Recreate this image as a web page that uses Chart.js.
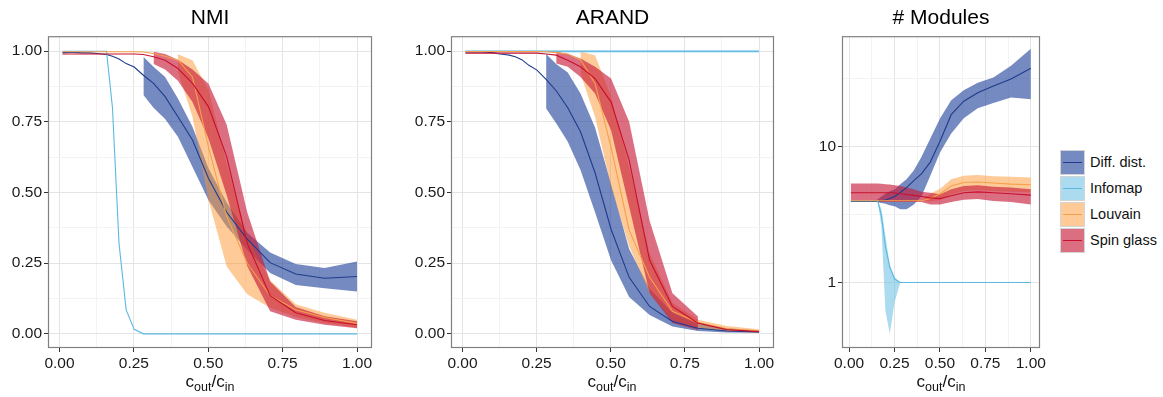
<!DOCTYPE html>
<html>
<head>
<meta charset="utf-8">
<script src="https://cdn.jsdelivr.net/npm/chart.js@4.4.1/dist/chart.umd.min.js"></script>
<style>
  body { margin: 0; background: #fff; width: 1163px; height: 397px; position: relative; overflow: hidden;
         font-family: "Liberation Sans", Arial, sans-serif; }
  canvas { position: absolute; top: 0; }
  .xlab { position: absolute; top: 372px; font-size: 17px; line-height: 20px; color: #111;
          transform: translateX(-50%); white-space: nowrap; }
  .xlab sub { font-size: 12.5px; vertical-align: -4px; line-height: 0; }
  #legend { position: absolute; left: 1060px; top: 149px; }
  .row { height: 26px; display: flex; align-items: center; font-size: 14.5px; color: #111; }
  .key { width: 25px; height: 25px; box-sizing: border-box; border: 1px solid #d4d4d4; position: relative; margin-right: 5px; }
  .key span { position: absolute; left: 2px; right: 2px; top: 11px; height: 1px; }
</style>
</head>
<body>
<canvas id="nmiChart" width="380" height="397" style="left:0px"></canvas>
<canvas id="arandChart" width="400" height="397" style="left:380px"></canvas>
<canvas id="modChart" width="270" height="397" style="left:780px"></canvas>
<div class="xlab" style="left:210px">c<sub>out</sub>/c<sub>in</sub></div>
<div class="xlab" style="left:612px">c<sub>out</sub>/c<sub>in</sub></div>
<div class="xlab" style="left:941px">c<sub>out</sub>/c<sub>in</sub></div>
<div id="legend"></div>
<script>
// c_out / c_in values
const X = [0.01, 0.02, 0.04, 0.063, 0.079, 0.1, 0.112, 0.126, 0.141, 0.158, 0.178, 0.2, 0.224,
           0.251, 0.282, 0.316, 0.355, 0.398, 0.447, 0.501, 0.562, 0.631, 0.708, 0.794, 0.891, 1.0];

const SERIES = ['Diff. dist.', 'Infomap', 'Louvain', 'Spin glass'];
const LINE_COLORS = ['#1f3c8c', '#5ab8e2', '#f7a04a', '#c8102e'];
const BAND_COLORS = ['rgba(37,70,155,0.63)', 'rgba(100,190,225,0.55)', 'rgba(252,150,50,0.5)', 'rgba(200,25,55,0.63)'];

const X_TICKS = [0, 0.125, 0.25, 0.375, 0.5, 0.625, 0.75, 0.875, 1];
const X_LABELS = ['0.00', '', '0.25', '', '0.50', '', '0.75', '', '1.00'];
const LOG_TICKS = [1, 3.162, 10, 31.62];
const LOG_LABELS = ['1', '', '10', ''];

// NMI
const nmiDiff   = [0.995,0.995,0.996,0.995,0.994,0.994,0.993,0.992,0.990,0.988,0.982,0.972,0.956,0.944,0.915,0.886,0.839,0.768,0.686,0.550,0.430,0.335,0.252,0.212,0.197,0.203];
const nmiDiffHi = [null,null,null,null,null,null,null,null,null,null,null,null,null,null,0.980,0.945,0.909,0.833,0.733,0.585,0.465,0.358,0.288,0.247,0.233,0.256];
const nmiDiffLo = [null,null,null,null,null,null,null,null,null,null,null,null,null,null,0.845,0.800,0.760,0.697,0.590,0.473,0.380,0.297,0.215,0.173,0.161,0.150];
const nmiInfo   = [1,1,1,1,1,1,1,1,1,1,0.800,0.320,0.085,0.016,0,0,0,0,0,0,0,0,0,0,0,0];
const nmiLouv   = [0.998,0.998,0.998,0.998,0.998,0.998,0.998,0.998,0.998,0.998,0.998,0.998,0.998,0.998,0.997,0.992,0.982,0.968,0.909,0.660,0.415,0.250,0.135,0.085,0.058,0.037];
const nmiLouvHi = [null,null,null,null,null,null,null,null,null,null,null,null,null,null,null,null,null,0.989,0.968,0.862,0.603,0.344,0.190,0.105,0.075,0.050];
const nmiLouvLo = [null,null,null,null,null,null,null,null,null,null,null,null,null,null,null,null,null,0.927,0.768,0.473,0.238,0.140,0.092,0.060,0.038,0.022];
const nmiSpin   = [0.990,0.990,0.990,0.990,0.990,0.990,0.990,0.990,0.990,0.990,0.990,0.990,0.990,0.990,0.988,0.980,0.968,0.939,0.886,0.803,0.627,0.320,0.135,0.075,0.047,0.032];
const nmiSpinHi = [null,null,null,null,null,null,null,null,null,null,null,null,null,null,null,0.998,0.990,0.970,0.935,0.885,0.740,0.430,0.185,0.095,0.062,0.045];
const nmiSpinLo = [null,null,null,null,null,null,null,null,null,null,null,null,null,null,null,0.955,0.935,0.895,0.820,0.690,0.490,0.240,0.080,0.050,0.032,0.020];

// ARAND
const arDiff   = [0.997,0.997,0.998,0.997,0.996,0.995,0.993,0.990,0.988,0.986,0.980,0.970,0.950,0.933,0.900,0.860,0.800,0.715,0.570,0.370,0.200,0.097,0.044,0.020,0.010,0.007];
const arDiffHi = [null,null,null,null,null,null,null,null,null,null,null,null,null,null,0.990,0.955,0.925,0.850,0.730,0.530,0.300,0.160,0.075,0.035,0.020,0.012];
const arDiffLo = [null,null,null,null,null,null,null,null,null,null,null,null,null,null,0.797,0.745,0.680,0.580,0.430,0.260,0.130,0.067,0.026,0.010,0.005,0.004];
const arInfo   = [1,1,1,1,1,1,1,1,1,1,1,1,1,1,1,1,1,1,1,1,1,1,1,1,1,1];
const arInfoHi = [1.003,1.003,1.003,1.003,1.003,1.003,1.003,1.003,1.003,1.003,1.003,1.003,1.003,1.003,1.003,1.003,1.003,1.003,1.003,1.003,1.003,1.003,1.003,1.003,1.003,1.003];
const arInfoLo = [0.995,0.995,0.995,0.995,0.995,0.995,0.995,0.995,0.995,0.995,0.995,0.995,0.995,0.995,0.995,0.995,0.995,0.995,0.995,0.995,0.995,0.995,0.995,0.995,0.995,0.995];
const arLouv   = [0.999,0.999,0.999,0.999,0.999,0.999,0.999,0.999,0.999,0.999,0.999,0.999,0.999,0.999,0.998,0.995,0.990,0.970,0.886,0.660,0.367,0.200,0.080,0.040,0.018,0.010];
const arLouvHi = [null,null,null,null,null,null,null,null,null,null,null,null,null,null,null,null,null,0.998,0.986,0.840,0.590,0.285,0.110,0.050,0.028,0.016];
const arLouvLo = [null,null,null,null,null,null,null,null,null,null,null,null,null,null,null,null,null,0.920,0.768,0.520,0.310,0.144,0.050,0.020,0.008,0.004];
const arSpin   = [0.993,0.993,0.993,0.993,0.993,0.993,0.993,0.993,0.993,0.993,0.993,0.993,0.993,0.993,0.990,0.986,0.968,0.945,0.903,0.820,0.615,0.260,0.097,0.038,0.015,0.008];
const arSpinHi = [null,null,null,null,null,null,null,null,null,null,null,null,null,null,null,0.998,0.990,0.974,0.945,0.903,0.750,0.400,0.144,0.061,null,null];
const arSpinLo = [null,null,null,null,null,null,null,null,null,null,null,null,null,null,null,0.956,0.945,0.909,0.850,0.720,0.450,0.144,0.038,0.014,null,null];

// # Modules
const modDiff   = [3.95,3.95,3.95,3.95,3.95,3.95,3.95,3.95,3.95,3.97,4.0,4.05,4.15,4.3,4.6,5.0,5.6,6.3,7.7,11.0,17.2,21.6,24.9,28.0,31.5,37.8];
const modDiffHi = [null,null,null,null,null,null,null,null,4.0,4.1,4.3,4.5,4.7,4.85,5.3,5.75,6.65,8.4,11.5,16.2,22.0,26.0,29.6,32.3,39.4,52.6];
const modDiffLo = [null,null,null,null,null,null,null,null,3.95,3.9,3.85,3.8,3.7,3.64,3.47,3.47,3.74,4.3,6.1,9.1,12.5,16.2,19.2,21.0,23.0,22.3];
const modInfo   = [4.0,4.0,4.0,4.0,4.0,4.0,4.0,4.0,4.0,4.0,3.1,1.85,1.3,1.06,1,1,1,1,1,1,1,1,1,1,1,1];
const modInfoHi = [null,null,null,null,null,null,null,null,null,4.0,3.5,2.2,1.35,1.1,1.0,null,null,null,null,null,null,null,null,null,null,null];
const modInfoLo = [null,null,null,null,null,null,null,null,null,3.95,2.6,0.62,0.42,0.72,1.0,null,null,null,null,null,null,null,null,null,null,null];
const modLouv   = [4.0,4.0,4.0,4.0,4.0,4.0,4.0,4.0,4.0,4.0,4.0,4.0,4.0,4.0,4.0,4.0,4.0,4.0,4.15,4.5,5.14,5.45,5.5,5.4,5.3,5.25];
const modLouvHi = [null,null,null,null,null,null,null,null,null,null,null,null,null,null,null,null,null,4.0,4.5,4.9,5.77,6.1,6.2,6.05,6.0,5.93];
const modLouvLo = [null,null,null,null,null,null,null,null,null,null,null,null,null,null,null,null,null,4.0,3.95,4.05,4.46,4.72,4.8,4.72,4.65,4.6];
const modSpin   = [4.58,4.58,4.58,4.58,4.58,4.58,4.58,4.58,4.58,4.58,4.58,4.58,4.58,4.58,4.5,4.45,4.38,4.3,4.2,4.15,4.35,4.58,4.65,4.58,4.5,4.4];
const modSpinHi = [5.36,5.36,5.36,5.36,5.36,5.36,5.36,5.36,5.36,5.36,5.33,5.3,5.26,5.2,5.14,5.0,4.86,4.65,4.58,4.46,4.86,5.14,5.2,5.08,5.0,4.86];
const modSpinLo = [3.91,3.91,3.91,3.91,3.91,3.91,3.91,3.91,3.91,3.91,3.91,3.91,3.91,3.91,3.91,3.91,3.91,3.91,3.76,3.76,3.91,4.06,4.12,3.99,3.91,3.76];

const FONT = '"Liberation Sans", Arial, sans-serif';
const MAJOR_GRID = '#e4e4e4';
const MINOR_GRID = '#f3f3f3';

function pts(arr) {
    return X.map((x, i) => ({ x: x, y: arr[i] })).filter(p => p.y !== null);
}

function buatDatasets(mids, his, los) {
    const ds = [];
    for (let s = 0; s < 4; s++) {
        if (!his[s]) continue;
        ds.push({ data: pts(his[s]), borderColor: 'rgba(0,0,0,0)', borderWidth: 0, pointRadius: 0, fill: false, order: 8 - s });
        ds.push({ data: pts(los[s]), borderColor: 'rgba(0,0,0,0)', borderWidth: 0, pointRadius: 0,
                  fill: '-1', backgroundColor: BAND_COLORS[s], order: 8 - s });
    }
    for (let s = 0; s < 4; s++) {
        ds.push({ data: pts(mids[s]), borderColor: LINE_COLORS[s], borderWidth: 1.1, pointRadius: 0,
                  fill: false, tension: 0, order: 4 - s });
    }
    return ds;
}

function skalaX() {
    return {
        type: 'linear', min: -0.0387, max: 1.0504,
        afterBuildTicks: s => { s.ticks = X_TICKS.map(v => ({ value: v })); },
        afterFit: s => { s.height = 49; },
        ticks: { autoSkip: false, maxRotation: 0, padding: 2, color: '#1a1a1a',
                 font: { family: FONT, size: 15.5 }, callback: (v, i) => X_LABELS[i] },
        grid: { color: c => X_LABELS[c.index] ? MAJOR_GRID : MINOR_GRID,
                tickColor: c => X_LABELS[c.index] ? '#333' : 'rgba(0,0,0,0)', tickLength: 4 },
        border: { display: false }
    };
}

function skalaY(width, ticks, labels, extra) {
    return Object.assign({
        bounds: 'data',
        afterBuildTicks: s => { s.ticks = ticks.map(v => ({ value: v })); },
        afterFit: s => { s.width = width; },
        ticks: { autoSkip: false, padding: 2, color: '#1a1a1a',
                 font: { family: FONT, size: 15.5 }, callback: (v, i) => labels[i] },
        grid: { color: c => labels[c.index] ? MAJOR_GRID : MINOR_GRID,
                tickColor: c => labels[c.index] ? '#333' : 'rgba(0,0,0,0)', tickLength: 4 },
        border: { display: false }
    }, extra);
}

const panelBorder = {
    id: 'panelBorder',
    afterDraw(chart) {
        const a = chart.chartArea;
        const ctx = chart.ctx;
        ctx.save();
        ctx.strokeStyle = '#808080';
        ctx.lineWidth = 1.2;
        ctx.strokeRect(a.left + 0.5, a.top + 0.5, a.right - a.left - 1, a.bottom - a.top - 1);
        ctx.restore();
    }
};

function buatChart(id, judul, datasets, yScale, padRight) {
    return new Chart(document.getElementById(id).getContext('2d'), {
        type: 'line',
        data: { datasets: datasets },
        options: {
            responsive: false, animation: false, events: [],
            layout: { padding: { left: 0, right: padRight, top: 0, bottom: 0 } },
            scales: { x: skalaX(), y: yScale },
            plugins: {
                legend: { display: false }, tooltip: { enabled: false },
                title: { display: true, text: judul, fullSize: false, color: '#000',
                         font: { family: FONT, size: 21, weight: 'normal' }, padding: { top: 6, bottom: 5 } }
            }
        },
        plugins: [panelBorder]
    });
}

buatChart('nmiChart', 'NMI',
    buatDatasets([nmiDiff, nmiInfo, nmiLouv, nmiSpin],
                 [nmiDiffHi, null, nmiLouvHi, nmiSpinHi],
                 [nmiDiffLo, null, nmiLouvLo, nmiSpinLo]),
    skalaY(48, X_TICKS, X_LABELS, { type: 'linear', min: -0.05, max: 1.053 }), 8);

buatChart('arandChart', 'ARAND',
    buatDatasets([arDiff, arInfo, arLouv, arSpin],
                 [arDiffHi, arInfoHi, arLouvHi, arSpinHi],
                 [arDiffLo, arInfoLo, arLouvLo, arSpinLo]),
    skalaY(71, X_TICKS, X_LABELS, { type: 'linear', min: -0.05, max: 1.053 }), 6);

buatChart('modChart', '# Modules',
    buatDatasets([modDiff, modInfo, modLouv, modSpin],
                 [modDiffHi, modInfoHi, modLouvHi, modSpinHi],
                 [modDiffLo, modInfoLo, modLouvLo, modSpinLo]),
    skalaY(62, LOG_TICKS, LOG_LABELS, { type: 'logarithmic', min: 0.33, max: 65 }), 10);

// legend
const legend = document.getElementById('legend');
SERIES.forEach((nama, s) => {
    const row = document.createElement('div');
    row.className = 'row';
    row.innerHTML = `<div class="key" style="background:${BAND_COLORS[s]}"><span style="background:${LINE_COLORS[s]}"></span></div>${nama}`;
    legend.appendChild(row);
});
</script>
</body>
</html>
